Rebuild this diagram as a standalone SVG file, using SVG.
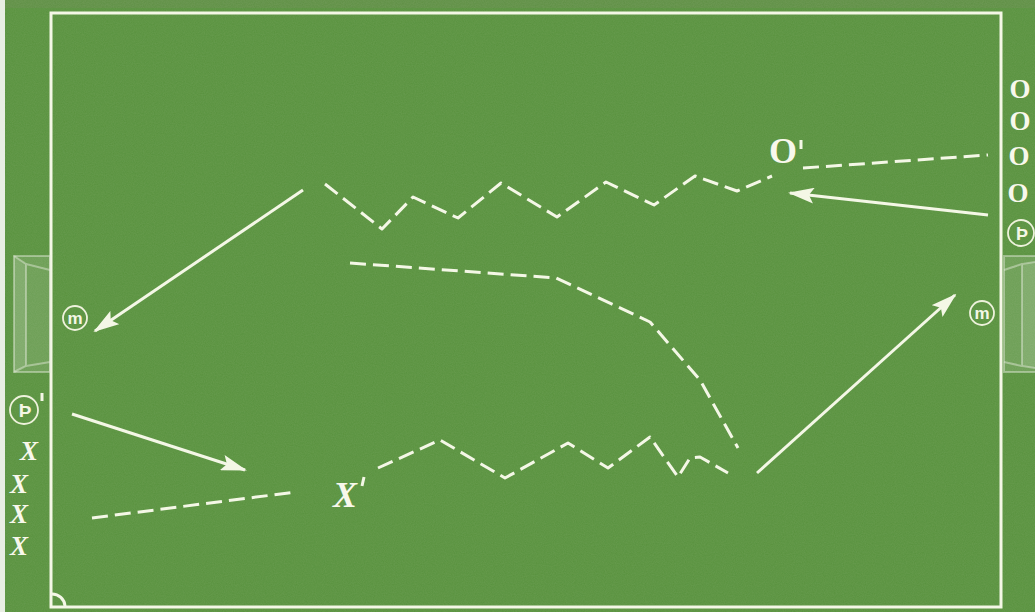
<svg xmlns="http://www.w3.org/2000/svg" width="1035" height="612" viewBox="0 0 1035 612">
<defs>
<style>
.line{fill:none;stroke:#f4f7e6;stroke-width:3;}
.dash{fill:none;stroke:#f4f7e6;stroke-width:3;stroke-dasharray:16 7;stroke-linejoin:round;}
.arr{fill:none;stroke:#f4f7e6;stroke-width:3;marker-end:url(#ah);}
.ring{fill:none;stroke:#eef2dc;stroke-width:1.8;}
.sym{font-family:"Liberation Sans","DejaVu Sans",sans-serif;fill:#f4f7e6;text-anchor:middle;}
.big{font-family:"Liberation Serif",serif;font-weight:bold;font-size:36px;fill:#f8f8ec;text-anchor:middle;}
.q{font-size:27px;}
.goal{fill:#ffffff;fill-opacity:0.12;stroke:#e8eee0;stroke-opacity:0.45;stroke-width:2;}
</style>
<marker id="ah" viewBox="0 0 26 16" refX="24" refY="8" markerWidth="26" markerHeight="16" markerUnits="userSpaceOnUse" orient="auto">
<path d="M0,0 L26,8 L0,16 L5,8 Z" fill="#f4f7e6"/>
</marker>
<filter id="grain" x="0" y="0" width="100%" height="100%">
<feTurbulence type="fractalNoise" baseFrequency="0.9" numOctaves="2" seed="3" result="n"/>
<feColorMatrix in="n" type="matrix" values="0 0 0 0 0.32  0 0 0 0 0.52  0 0 0 0 0.22  0 0 0 0.3 0" result="c"/>
<feComposite in="c" in2="SourceGraphic" operator="over"/>
</filter>
</defs>
<g id="field">
<rect x="0" y="0" width="1035" height="612" fill="#e9eee4"/>
<rect x="5" y="0" width="1030" height="612" fill="#58923d"/>
<rect x="5" y="0" width="1030" height="8" fill="#6a8d50"/>
<rect x="5" y="0" width="1030" height="612" fill="#58923d" filter="url(#grain)" opacity="0.6"/>
<rect x="51" y="13" width="950" height="594" class="line"/>
<path d="M52,594 A13,13 0 0 1 65,606" class="line" stroke-width="1.5"/>
</g>
<g id="goal-left">
<path d="M14,256 L50,256 L50,372 L14,372 Z" class="goal"/>
<path d="M14,256 L26,264 L26,366 L14,372 M26,264 L50,270 M26,366 L50,362" class="goal" fill="none"/>
</g>
<g id="goal-right">
<path d="M1035,256 L1004,256 L1004,372 L1035,372" class="goal"/>
<path d="M1035,262 L1022,264 L1022,366 L1035,368 M1022,264 L1004,270 M1022,366 L1004,362" class="goal" fill="none"/>
</g>
<g id="connectors">
<path d="M325,184 L382,229 L413,197 L458,218 L501,183 L557,217 L606,182 L654,205 L695,176 L737,191 L772,176" class="dash"/>
<path d="M803,168 L988,155" class="dash"/>
<path d="M988,215 L790,193" class="arr"/>
<path d="M303,190 L95,331" class="arr"/>
<path d="M350,263 L556,278 L650,322 L700,380 L738,448" class="dash"/>
<path d="M72,414 L245,470" class="arr"/>
<path d="M92,518 L296,492" class="dash"/>
<path d="M378,468 L440,440 L505,478 L568,443 L608,468 L650,437 L678,477 L690,458 L700,457 L728,473" class="dash"/>
<path d="M757,473 L955,295" class="arr"/>
</g>
<g id="m-left"><circle cx="75" cy="318" r="12" class="ring"/><text x="75" y="324" class="sym" font-size="17" font-weight="bold">m</text></g>
<g id="m-right"><circle cx="982" cy="313" r="12" class="ring"/><text x="982" y="319" class="sym" font-size="17" font-weight="bold">m</text></g>
<g id="p-left"><circle cx="24" cy="410" r="14" class="ring"/><text x="25" y="417" class="sym" font-size="19" font-weight="bold">Þ</text><line x1="42" y1="393" x2="42" y2="401" class="line" stroke-width="1.5"/></g>
<g id="p-right"><circle cx="1021" cy="233" r="13" class="ring"/><text x="1022" y="240" class="sym" font-size="18" font-weight="bold">Þ</text></g>
<g id="o-prime"><text x="783" y="163" class="big">O</text><line x1="801" y1="140" x2="801" y2="149" class="line" stroke-width="1.5"/></g>
<g id="o-queue">
<text x="1020" y="98" class="big q">O</text>
<text x="1020" y="130" class="big q">O</text>
<text x="1019" y="165" class="big q">O</text>
<text x="1018" y="202" class="big q">O</text>
</g>
<g id="x-prime"><text x="345" y="507" class="big" font-style="italic">X</text><line x1="364" y1="477" x2="362" y2="486" class="line" stroke-width="1.5"/></g>
<g id="x-queue">
<text x="29" y="460" class="big q" font-style="italic">X</text>
<text x="19" y="493" class="big q" font-style="italic">X</text>
<text x="19" y="523" class="big q" font-style="italic">X</text>
<text x="19" y="555" class="big q" font-style="italic">X</text>
</g>
</svg>
